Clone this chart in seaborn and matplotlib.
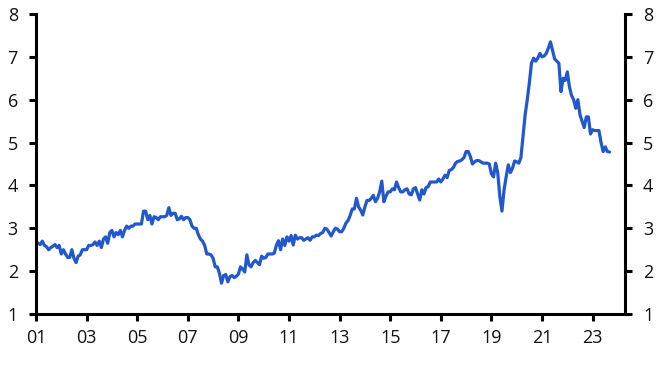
import numpy as np
import pandas as pd
import matplotlib
matplotlib.use("Agg")
import matplotlib.pyplot as plt
import seaborn as sns

start_year = 2001
values = [
    # 2001
    2.70, 2.65, 2.62, 2.70, 2.60, 2.57, 2.50, 2.55, 2.58, 2.62, 2.55, 2.60,
    # 2002
    2.40, 2.50, 2.40, 2.32, 2.32, 2.50, 2.30, 2.20, 2.35, 2.38, 2.50, 2.50,
    # 2003
    2.50, 2.60, 2.60, 2.62, 2.68, 2.60, 2.70, 2.55, 2.75, 2.80, 2.65, 2.90,
    # 2004
    2.95, 2.80, 2.90, 2.85, 2.95, 2.80, 2.95, 3.05, 3.00, 3.05, 3.05, 3.10,
    # 2005
    3.10, 3.10, 3.10, 3.40, 3.40, 3.20, 3.30, 3.10, 3.27, 3.25, 3.20, 3.27,
    # 2006
    3.27, 3.27, 3.30, 3.48, 3.30, 3.35, 3.35, 3.20, 3.22, 3.28, 3.20, 3.25,
    # 2007
    3.25, 3.20, 3.05, 3.00, 3.00, 2.85, 2.75, 2.70, 2.60, 2.40, 2.40, 2.38,
    # 2008
    2.30, 2.10, 2.10, 1.95, 1.72, 1.90, 1.92, 1.75, 1.87, 1.90, 1.85, 1.88,
    # 2009
    1.93, 2.10, 2.05, 1.98, 2.38, 2.15, 2.10, 2.20, 2.25, 2.20, 2.15, 2.35,
    # 2010
    2.30, 2.32, 2.40, 2.40, 2.40, 2.42, 2.60, 2.71, 2.50, 2.75, 2.60, 2.80,
    # 2011
    2.70, 2.83, 2.61, 2.84, 2.75, 2.78, 2.78, 2.72, 2.75, 2.78, 2.72, 2.80,
    # 2012
    2.80, 2.84, 2.83, 2.88, 2.90, 3.00, 2.98, 2.90, 2.82, 2.92, 3.00, 2.98,
    # 2013
    2.92, 2.92, 3.00, 3.12, 3.18, 3.30, 3.45, 3.45, 3.70, 3.50, 3.42, 3.31,
    # 2014
    3.50, 3.65, 3.65, 3.70, 3.77, 3.62, 3.70, 3.85, 4.10, 3.62, 3.75, 3.85,
    # 2015
    3.85, 3.92, 3.90, 4.08, 3.95, 3.85, 3.85, 3.90, 3.92, 3.80, 3.78, 3.92,
    # 2016
    3.95, 3.80, 3.66, 3.90, 3.80, 3.95, 3.97, 4.08, 4.08, 4.08, 4.08, 4.15,
    # 2017
    4.08, 4.15, 4.24, 4.18, 4.35, 4.37, 4.42, 4.52, 4.56, 4.57, 4.60, 4.65,
    # 2018
    4.79, 4.79, 4.68, 4.50, 4.55, 4.58, 4.58, 4.55, 4.52, 4.52, 4.52, 4.50,
    # 2019
    4.27, 4.20, 4.52, 4.30, 3.74, 3.40, 3.90, 4.20, 4.48, 4.30, 4.40, 4.57,
    # 2020
    4.55, 4.52, 4.65, 5.14, 5.65, 6.00, 6.40, 6.85, 6.97, 6.90, 6.97, 7.08,
    # 2021
    7.00, 7.02, 7.08, 7.20, 7.35, 7.15, 6.95, 6.90, 6.85, 6.19, 6.50, 6.45,
    # 2022
    6.65, 6.30, 6.10, 6.00, 5.80, 6.00, 5.65, 5.50, 5.35, 5.60, 5.60, 5.20,
    # 2023
    5.30, 5.28, 5.28, 5.28, 5.00, 4.79, 4.90, 4.79, 4.78,
]
tick_years = list(range(2001, 2024, 2))
tick_labels = ["01", "03", "05", "07", "09", "11", "13", "15", "17", "19", "21", "23"]
y_ticks = [1, 2, 3, 4, 5, 6, 7, 8]

df = pd.DataFrame({
    "year": start_year + np.arange(len(values)) / 12.0,
    "value": values,
})

sns.set_theme(style="ticks")
plt.rcParams["font.family"] = ["Liberation Sans Narrow", "Open Sans", "DejaVu Sans"]

fig = plt.figure(figsize=(6.61, 3.72), dpi=100)
ax = fig.add_axes([36 / 661, 1 - 314 / 372, (625 - 36) / 661, 300 / 372])

sns.lineplot(data=df, x="year", y="value", ax=ax, color="#2157CF", linewidth=2.3)

ax.set_xlim(2001.0, 2024.28)
ax.set_ylim(1, 8)
ax.set_xticks(tick_years)
ax.set_xticklabels(tick_labels)
ax.set_yticks(y_ticks)
ax.set_yticklabels([str(v) for v in y_ticks])
ax.set_xlabel("")
ax.set_ylabel("")

for side in ["left", "right", "bottom"]:
    ax.spines[side].set_visible(True)
    ax.spines[side].set_linewidth(2.2)
    ax.spines[side].set_color("black")
ax.spines["top"].set_visible(False)

ax.tick_params(axis="both", direction="out", length=5, width=2.2, color="black",
               labelsize=13, labelcolor="#111111")
ax.tick_params(axis="y", right=True, labelright=True, left=True, labelleft=True, pad=8)
ax.tick_params(axis="x", pad=6)
ax.grid(False)

fig.savefig("out.png", dpi=100)
